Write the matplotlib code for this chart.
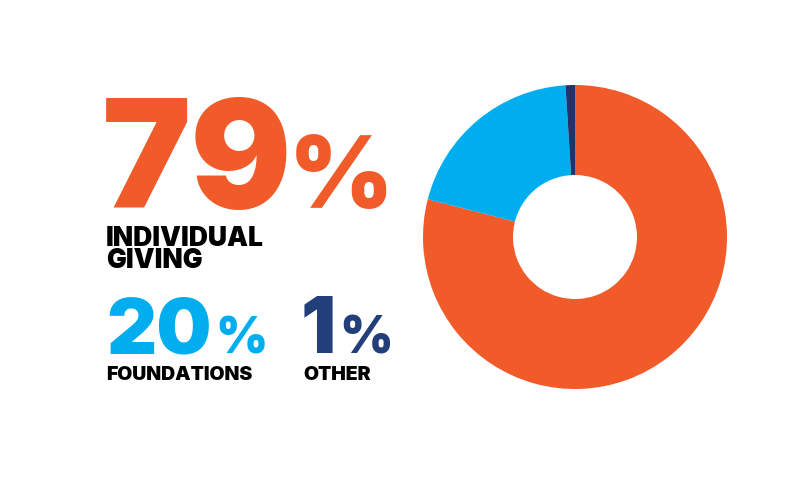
import matplotlib
matplotlib.use("Agg")
import matplotlib.pyplot as plt

# funding shares
labels = ["INDIVIDUAL\nGIVING", "FOUNDATIONS", "OTHER"]
values = [79, 20, 1]
colors = ["#F15A29", "#00AEEF", "#1F3370"]
text_colors = ["#F15A29", "#00AEEF", "#223F7A"]

fig = plt.figure(figsize=(8.05, 4.83), dpi=100)
fig.patch.set_facecolor("white")

# overlay axes in pixel coords for the text
tax = fig.add_axes([0, 0, 1, 1])
tax.set_xlim(0, 805)
tax.set_ylim(483, 0)
tax.axis("off")

font = "Inter"
renderer = fig.canvas.get_renderer()

def big_number(x, y, num, gap, size, pct_size, color):
    t = tax.text(x, y, str(num), fontsize=size, fontweight="black", family=font,
                 color=color, ha="left", va="baseline")
    bb = t.get_window_extent(renderer=renderer)
    tax.text(bb.x1 + gap, y, "%", fontsize=pct_size, fontweight="black", family=font,
             color=color, ha="left", va="baseline")

def label(x, y, s, size):
    # y is the baseline of the last line
    tax.text(x, y, s, fontsize=size, fontweight="black", family=font,
             color="black", ha="left", va="baseline", linespacing=0.82)

big_number(102, 208, values[0], -4, 108, 72, text_colors[0])
label(106, 268, labels[0], 19)

big_number(106, 353, values[1], 4, 56, 36, text_colors[1])
label(106, 380, labels[1], 14)

big_number(301, 353, values[2], 3, 56, 37, text_colors[2])
label(303, 380, labels[2], 14)

# donut
cx, cy, r = 575, 237, 152
pax = fig.add_axes([(cx - r) / 805, (483 - cy - r) / 483, 2 * r / 805, 2 * r / 483])
pax.pie(values, colors=colors, startangle=90, counterclock=False, radius=1,
        wedgeprops=dict(width=1 - 62 / 152, edgecolor="none"))
pax.set_xlim(-1, 1)
pax.set_ylim(-1, 1)
pax.set_aspect("equal")

fig.savefig("out.png", dpi=100, facecolor="white")
